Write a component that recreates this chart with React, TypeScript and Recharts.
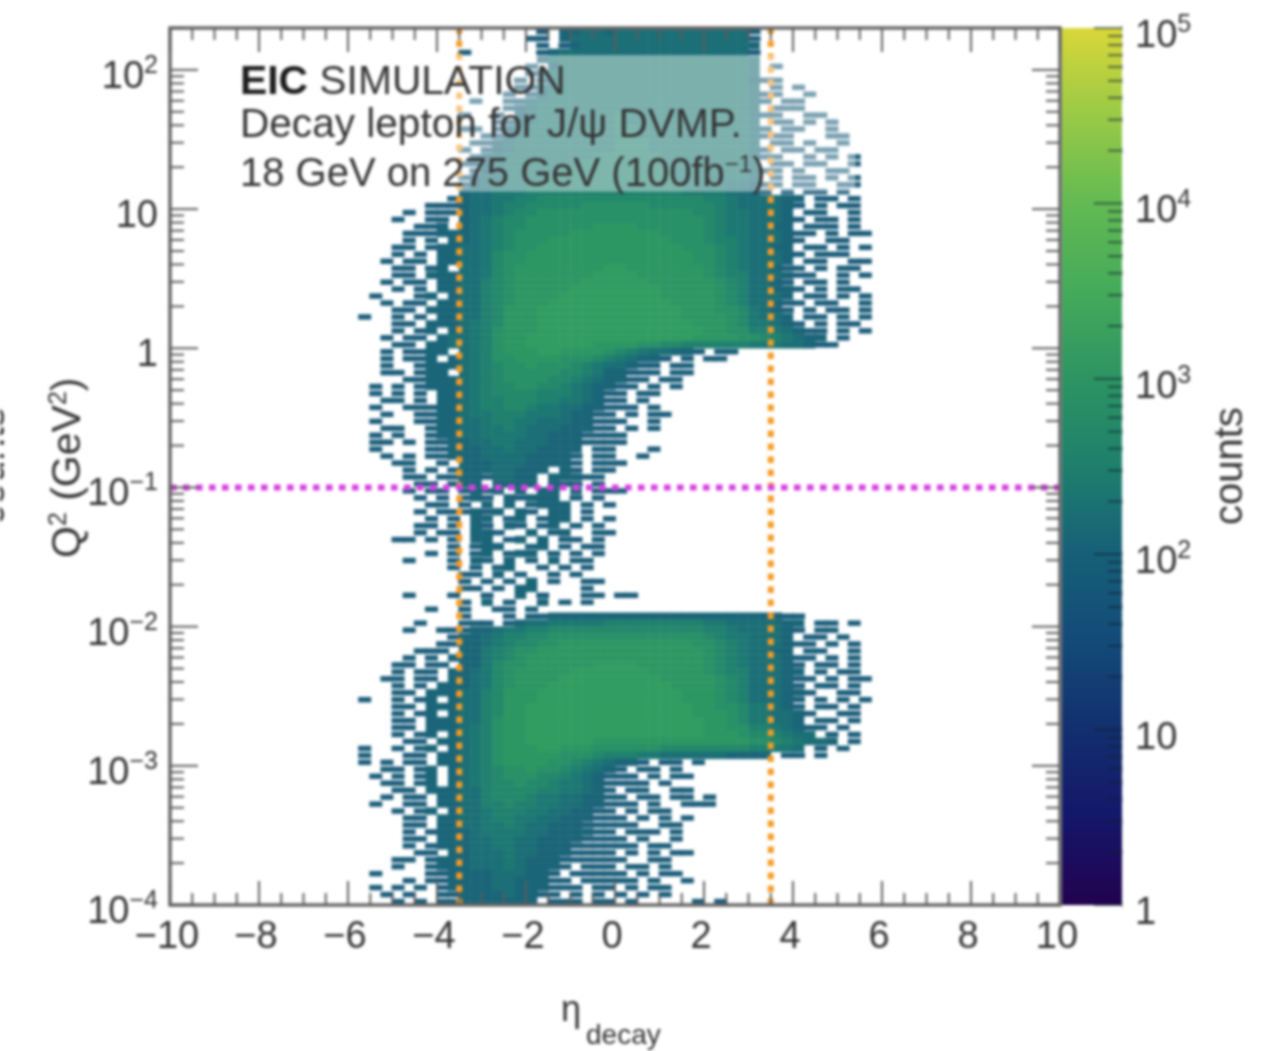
import { ScatterChart, Scatter, XAxis, YAxis, ReferenceLine, ReferenceArea } from 'recharts';

// log10(Q2) rows from the top of the frame down, eta columns from -6 to 6.
// Each character is a count level, '.' is an empty bin.
const topRows = [
  '............ .....1.22332 333333333333 1...........',
  '............ ....11.23333 333333333333 1...........',
  '............ .....1.12333 333333333333 2...........',
  '..........1. .....1233333 333333333333 1...........',
];

const boxRows = [
  '............ .....2444444 444444444444 3...........',
  '............ ....1.244444 444444444444 3.1.........',
  '............ ....12444444 444444444444 3...........',
  '............ ...1.1344444 444444444444 211.........',
  '............ ...113444444 444444444444 3.1.1.......',
  '............ ..1.12444444 444444444444 311..1......',
  '...........1 ..1134444444 444444444444 31.11.......',
  '............ ..1234444444 444444444444 3.111.......',
  '..........1. .1.234444444 544444444444 311..11.....',
  '............ .11234444444 544444444444 3.11.1.1....',
  '..........11 .12344444444 554444444444 31.11..1....',
  '............ 112344444444 554444444444 3111...11...',
  '...........1 123444444444 555444444444 3.11.1..1...',
  '..........1. 123444444444 555444444444 31.11.11....',
  '...........1 234444444455 555544444444 311..1.1.1..',
  '..........11 234444444555 555544444444 3.11.11..1..',
  '...........1 234444455555 555554444444 311.1..11...',
  '..........12 334444555555 555554444444 3.1.11.1.1..',
  '..........12 344445555555 555555444433 211.11..11..',
  '..........23 344455555555 555555444433 21.1.11.1...',
];

const upperBandRows = [
  '.........123 344556666666 666666665543 33322.11.1..',
  '.......11123 345566666777 777666666543 33321.1.11..',
  '.....1.11123 345667777777 777777766544 3332.11..1..',
  '....1..11.23 456677777777 777777776544 33321.11.1..',
  '......112.23 456677777788 887777776544 3322.111.1..',
  '.....1112223 456777778888 888877776544 333211.1.11.',
  '.....1.1.223 456777888888 888887776554 33321..11...',
  '....11.12233 456778888888 888888777654 3322.11.1.1.',
  '....1.1.2233 467788888888 888888877654 33321.111...',
  '...1.11.2233 467788888888 888888877654 3332.11..11.',
  '....11.12.33 467888888889 988888887654 33211.1.11..',
  '....11.22233 467888888899 998888887655 333211..1.1.',
  '...1.11.2233 567888888999 999888888765 3321.11.1...',
  '....1.1.2233 567888889999 999988888765 33221.1.11..',
  '..1...12.233 567888899999 999988888765 3332.11.1.1.',
  '...1.11.2233 567888999999 999998888765 33211.11..1.',
  '....11.22233 568889999999 999999888776 4321.1.11.1.',
  '.1..1.1.2233 568889999999 999999888876 4332.11.1.1.',
  '....11.22234 568889999999 999999988876 44321.1.11..',
  '....1.12.234 578889999999 999999998877 5543211.1.1.',
  '...1.11.2334 578899999999 999999988887 7654322.1...',
  '....11.22334 578899999988 887766555555 44433211....',
];

const middleRows = [
  '...1.1122.34 578889988887 65433221.11. ............',
  '...1.112.234 577888877765 43221.1.11.. ............',
  '...1..122234 567787776543 3211.11..... ............',
  '...11.122.34 567777766542 2111.11..... ............',
  '.....1122234 567777665432 211.11...... ............',
  '..1.1.122234 566776654322 11.1.1...... ............',
  '..1.1.1.2234 566665554321 1.11........ ............',
  '...11.1.2234 556665544321 1.1......... ............',
  '..1..1112234 556654433221 11.1........ ............',
  '...1..112234 455544432211 .1.11....... ............',
  '..1...112233 455443332211 1..1........ ............',
  '...11..12233 445433322211 .1.1........ ............',
  '..1.1..12233 444433222111 1........... ............',
  '..11.1.11223 344333222111 1........... ............',
  '..1....11222 334332222.11 ...1........ ............',
  '...1.1.11222 333322221.11 ..1......... ............',
  '....11..1.22 233322221.11 1........... ............',
  '.....1.1.122 233222.21.11 ............ ............',
  '.....11.1122 13322.22211. ............ ............',
  '......11.122 .2222.211.1. ............ ............',
  '.....1.11.12 12.2.22.2.11 1........... ............',
  '......1.1.12 1.21222.1.1. ............ ............',
  '.......11.1. 2.2.1222.1.1 ............ ............',
  '......1.1112 12.21.22.1.. ............ ............',
  '.......1.1.2 2.12.122.1.1 ............ ............',
  '......11.1.2 1.21.12.1.1. ............ ............',
  '......1.11.2 21..2.12..11 ............ ............',
  '....11.1.1.2 2.12.2.11.1. ............ ............',
  '.........1.1 22..12.1.11. ............ ............',
  '.......1.1.1 2.122.1.1.1. ............ ............',
  '.....1...1.2 1.2.1.2.11.. ............ ............',
  '.........1.1 .12..1.1.1.. ............ ............',
  '..........11 .2.1..1.1... ............ ............',
  '..........1. 1.1.2.1..11. ............ ............',
  '..........11 .1.22....1.. ............ ............',
  '.....1...1.. 1..2.1...11. 11.......... ............',
  '..........1. 2.1..2.1.1.. ............ ............',
  '.......1..1. .11.1....... ............ ............',
];

const lowerBandRows = [
  '..........1. ..1.11222222 222222222222 22211.......',
  '......1...11 1.1233444445 555555554433 33322.11.1..',
  '.....1..1112 234455666666 666666665543 33321.11....',
  '.........122 345566777777 777777776544 3332.11.1...',
  '........1122 345667788888 888888877654 333211.1.1..',
  '......111.22 456778888888 888888887654 3322.11..1..',
  '.....1.1.222 456788888888 888888887654 333211.1.1..',
  '....11.11.22 467788888899 998888887654 33321.11.1..',
  '....1.11.223 467888889999 999888887655 33322.1.11..',
  '...11.11.223 467888899999 999988888765 333211.1.11.',
  '....1.1.2223 467888999999 999998888765 33321.11.1..',
  '....11.22233 568889999999 999999888765 333221..11..',
  '.1..1.12.233 568889999999 999999888765 33321.1.1.1.',
  '....11.22233 568899999999 999999988776 44321.11.1..',
  '....1.12.233 568899999999 999999988876 443321..11..',
  '....11.22233 578899999999 999999998876 44332.11.1..',
  '....11.22234 578899999999 999999998877 5543211.1...',
  '....1.12.234 578899999999 999999998887 665433.1.1..',
  '.....11.2234 578899999988 888888888888 77654332.1..',
  '.1..1.12.234 578889988877 777766666666 55443.1.1...',
  '.1...11.2234 578888877765 554433333322 22.11.1.....',
  '.1.1.11.2234 578888776543 221.11.1.... ............',
  '...11.12.234 567787765432 1.11.1...... ............',
  '..1.1.12.234 567776654321 11.1.11..... ............',
  '...11.12.234 566766544321 111.1....... ............',
  '....11.22233 566665544321 .11..11..... ............',
  '...1.11.2233 566654433221 1.11.11.1... ............',
  '..1..11.2233 556554433221 11.1..111... ............',
  '....1.12.233 455544332211 .1.11....... ............',
  '.....11.2233 455443322211 1.1.1.1..... ............',
  '.....11.2233 445433222111 11..11...... ............',
  '.....1.12223 444433222211 .111.1...... ............',
  '.....11.2223 344332222111 1.1..1...... ............',
  '.....1.12223 344332221111 11.11....... ............',
  '......11.223 334332221111 .1.1.11..... ............',
  '....11.12223 334322211111 1..11....... ............',
  '....1..12223 33432221.111 .11.1....... ............',
  '..1....11222 2333221.1111 1.1.11...... ............',
  '.....1.11222 23322211.111 11.1..1..... ............',
  '..1.1.1.1222 233222111.11 .1.11....... ............',
  '...1.1..1122 2232211.1.1. 1.1.1....... ............',
  '....1.1.1122 22222.111.11 .1.....1.1.. ............',
];

const levelCounts = [0, 8, 20, 40, 80, 150, 300, 600, 1000, 1800];
const levelColors = ['#fff', '#1b5d7a', '#1b6578', '#1c6f76', '#1d7873', '#20816f', '#24896b', '#299167', '#2d9764', '#319d61'];

const etaStart = -6;
const etaStep = 0.25;
const logTop = 2.3;
const logStep = 0.05;

const allRows = [...topRows, ...boxRows, ...upperBandRows, ...middleRows, ...lowerBandRows];
const cells: { eta: number; q2: number; counts: number; level: number }[] = [];
allRows.forEach((row, r) => {
  row.replace(/ /g, '').split('').forEach((ch, c) => {
    if (ch === '.') return;
    const level = Number(ch);
    cells.push({
      eta: etaStart + etaStep * (c + 0.5),
      q2: Math.pow(10, logTop - logStep * (r + 0.5)),
      counts: levelCounts[level],
      level,
    });
  });
});

const etaMajor = [-10, -8, -6, -4, -2, 0, 2, 4, 6, 8, 10];
const etaMinor = [-9.5, -9, -8.5, -7.5, -7, -6.5, -5.5, -5, -4.5, -3.5, -3, -2.5, -1.5, -1, -0.5, 0.5, 1, 1.5, 2.5, 3, 3.5, 4.5, 5, 5.5, 6.5, 7, 7.5, 8.5, 9, 9.5];
const q2Major = [1e-4, 1e-3, 1e-2, 1e-1, 1, 10, 100];
const mantissas = [2, 3, 4, 5, 6, 7, 8, 9];
const decades = [1e-4, 1e-3, 1e-2, 1e-1, 1, 10];
const q2Minor = [...decades.flatMap((d) => mantissas.map((m) => m * d)), 200];
const countDecades = [1, 10, 100, 1000, 10000];
const countMajor = [1, 10, 100, 1000, 10000, 100000];
const countMinor = countDecades.flatMap((d) => mantissas.map((m) => m * d));
const barStops: [string, string][] = [
  ['0%', '#d8d738'],
  ['10%', '#99c946'],
  ['20%', '#62ba52'],
  ['30%', '#44aa5a'],
  ['40%', '#2c9462'],
  ['50%', '#1e7f6c'],
  ['60%', '#165f78'],
  ['70%', '#134a78'],
  ['80%', '#122f6e'],
  ['90%', '#14166a'],
  ['100%', '#22024e'],
];

const FONT = '"Liberation Sans", Arial, sans-serif';
const INK = '#333';
const TICK = '#5c5c5c';
const LEFT = 170;
const RIGHT = 1060;
const TOP = 28;
const BOTTOM = 905;
const BAR_RIGHT = 1122 - 1062;

function HeatCell(props: any) {
  const { cx, cy, payload } = props;
  // the sparsest bins read as short dashes, everything else tiles
  const h = payload.level === 1 ? 5.4 : 7.4;
  const w = payload.level === 1 ? 13 : 11.6;
  return <rect x={cx - w / 2} y={cy - h / 2} width={w} height={h} fill={levelColors[payload.level]} />;
}

// 10 with a raised exponent; plain numbers stay plain
function PowerLabel({ x, y, anchor, value }: { x: number; y: number; anchor: 'start' | 'end'; value: number }) {
  const exp = Math.round(Math.log10(value));
  const common = { fontFamily: FONT, fill: INK, textAnchor: anchor };
  if (exp === 0) return <text x={x} y={y} fontSize={38} {...common}>1</text>;
  if (exp === 1) return <text x={x} y={y} fontSize={38} {...common}>10</text>;
  return (
    <text x={x} y={y} fontSize={38} {...common}>
      10
      <tspan dy={-15} fontSize={25}>{exp < 0 ? '\u2212' + -exp : exp}</tspan>
    </text>
  );
}

function EtaTick(props: any) {
  const { x, payload } = props;
  const major = etaMajor.includes(payload.value);
  const len = major ? 24 : 12;
  return (
    <g>
      <line x1={x} x2={x} y1={BOTTOM} y2={BOTTOM - len} stroke={TICK} strokeWidth={2} />
      <line x1={x} x2={x} y1={TOP} y2={TOP + len} stroke={TICK} strokeWidth={2} />
      {major && (
        <text x={x - 3} y={948} fontSize={38} fontFamily={FONT} fill={INK} textAnchor="middle">
          {payload.value < 0 ? '\u2212' + -payload.value : payload.value}
        </text>
      )}
    </g>
  );
}

function Q2Tick(props: any) {
  const { y, payload } = props;
  const major = q2Major.includes(payload.value);
  const len = major ? 28 : 14;
  return (
    <g>
      <line x1={LEFT} x2={LEFT + len} y1={y} y2={y} stroke={TICK} strokeWidth={2} />
      <line x1={RIGHT} x2={RIGHT - len} y1={y} y2={y} stroke={TICK} strokeWidth={2} />
      {major && <PowerLabel x={158} y={y + 18} anchor="end" value={payload.value} />}
    </g>
  );
}

function CountTick(props: any) {
  const { y, payload } = props;
  const major = countMajor.includes(payload.value);
  const len = major ? 28 : 14;
  return (
    <g>
      <line x1={BAR_RIGHT} x2={BAR_RIGHT - len} y1={y} y2={y} stroke="#123" strokeOpacity={0.6} strokeWidth={2} />
      <line x1={BAR_RIGHT} x2={BAR_RIGHT} y1={y - 3} y2={y + 3} stroke="#123" strokeOpacity={0.4} strokeWidth={1} />
      {major && <PowerLabel x={73} y={y + 19} anchor="start" value={payload.value} />}
    </g>
  );
}

export default function App() {
  return (
    <div style={{ position: 'absolute', left: 0, top: 0, width: 1286, height: 1051, background: '#fff', filter: 'blur(1.4px)' }}>
      <div style={{ position: 'absolute', left: 0, top: 0 }}>
        <ScatterChart width={1286} height={1051} margin={{ top: TOP, right: 1286 - RIGHT, bottom: 0, left: 0 }}>
          <XAxis
            type="number"
            dataKey="eta"
            domain={[-10, 10]}
            ticks={[...etaMajor, ...etaMinor]}
            interval={0}
            height={1051 - BOTTOM}
            tick={<EtaTick />}
            tickLine={false}
            axisLine={false}
            zIndex={900}
          />
          <YAxis
            type="number"
            dataKey="q2"
            scale="log"
            domain={[1e-4, 200]}
            allowDataOverflow
            ticks={[...q2Major, ...q2Minor]}
            interval={0}
            width={LEFT}
            tick={<Q2Tick />}
            tickLine={false}
            axisLine={false}
            zIndex={900}
          />
          <Scatter data={cells} shape={<HeatCell />} isAnimationActive={false} />
          <ReferenceLine x={-3.5} stroke="#f59b24" strokeWidth={6} strokeDasharray="6.5 6.5" zIndex={700} />
          <ReferenceLine x={3.5} stroke="#f59b24" strokeWidth={6} strokeDasharray="6.5 6.5" zIndex={700} />
          <ReferenceLine y={0.1} stroke="#d63fe0" strokeWidth={6} strokeDasharray="6.5 6.5" zIndex={700} />
          <ReferenceArea x1={-9} x2={5.4} y1={13.3} y2={128} fill="#fff" fillOpacity={0.42} stroke="none" zIndex={800} />
          <ReferenceArea
            x1={-10}
            x2={10}
            y1={1e-4}
            y2={200}
            fill="none"
            stroke="#666"
            strokeWidth={3.5}
            zIndex={850}
          />
          <ReferenceArea
            x1={-10}
            x2={-9.99}
            y1={150}
            y2={151}
            fill="none"
            stroke="none"
            zIndex={1000}
            label={() => (
              <g fontFamily={FONT} fill={INK} fontSize={40}>
                <text x={240} y={94} fontSize={40.8}>
                  <tspan fontWeight="bold" fill="#1c1c1c">EIC</tspan> SIMULATION
                </text>
                <text x={240} y={137} fontSize={40.6}>Decay lepton for J/{'\u03c8'} DVMP.</text>
                <text x={240} y={186}>
                  18 GeV on 275 GeV (100fb<tspan dy={-14} fontSize={24}>{'\u22121'}</tspan>
                  <tspan dy={14}>)</tspan>
                </text>
                <text transform="translate(80 558) rotate(-90)" fontSize={41}>
                  Q<tspan dy={-14} fontSize={25}>2</tspan>
                  <tspan dy={14}> (GeV</tspan>
                  <tspan dy={-14} fontSize={25}>2</tspan>
                  <tspan dy={14}>)</tspan>
                </text>
                <text transform="translate(4 525) rotate(-90)">counts</text>
                <text x={561} y={1021} fontSize={36}>{'\u03b7'}</text>
                <text x={586} y={1044} fontSize={28}>decay</text>
              </g>
            )}
          />
        </ScatterChart>
      </div>
      <div style={{ position: 'absolute', left: 1062, top: 0 }}>
        <ScatterChart width={224} height={1051} margin={{ top: TOP, right: 0, bottom: 1051 - BOTTOM, left: 0 }}>
          <defs>
            <linearGradient id="countsBar" x1="0" y1="0" x2="0" y2="1">
              {barStops.map(([offset, color]) => (
                <stop key={offset} offset={offset} stopColor={color} />
              ))}
            </linearGradient>
          </defs>
          <XAxis type="number" dataKey="x" domain={[0, 1]} hide />
          <YAxis
            type="number"
            dataKey="y"
            orientation="right"
            scale="log"
            domain={[1, 100000]}
            allowDataOverflow
            ticks={[...countMajor, ...countMinor]}
            interval={0}
            width={224 - BAR_RIGHT}
            tick={<CountTick />}
            tickLine={false}
            axisLine={false}
            zIndex={900}
          />
          <Scatter data={countMajor.map((y) => ({ x: 0.5, y }))} shape={() => null} isAnimationActive={false} />
          <ReferenceArea
            x1={0}
            x2={1}
            y1={1}
            y2={100000}
            fill="url(#countsBar)"
            fillOpacity={1}
            stroke="none"
            label={() => (
              <text transform="translate(180 525) rotate(-90)" fontFamily={FONT} fontSize={40} fill={INK}>
                counts
              </text>
            )}
          />
        </ScatterChart>
      </div>
    </div>
  );
}
